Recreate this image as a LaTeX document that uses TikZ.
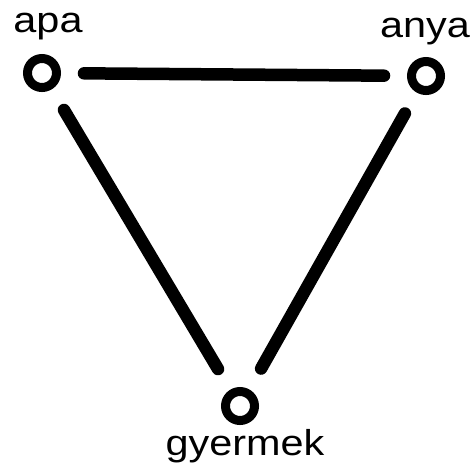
\documentclass[tikz,border=0pt]{standalone}
\usepackage{fontspec}
\setmainfont{Liberation Sans}
\usepackage{tikz}
\usetikzlibrary{positioning}
\newcommand{\szeles}[1]{\scalebox{1.15}[1]{#1}}
\tikzset{
  tag/.style={
    circle, draw=black, line width=9pt, fill=white,
    minimum size=29pt, inner sep=0pt
  },
  nev/.style={
    font=\fontsize{36}{40}\selectfont, anchor=base, inner sep=0pt
  },
  kapocs/.style={line width=12.5pt, line cap=round, draw=black}
}
\begin{document}
\begin{tikzpicture}[x=1pt, y=-1pt]
\useasboundingbox (0,0) rectangle (473,467);

\node[tag] (apa) at (42,73) {};
\node[tag] (anya) at (426,76) {};
\node[tag] (gyermek) at (240,406) {};

\node[nev] (apalbl) at (48,32) {\szeles{apa}};
\node[nev] (anyalbl) at (425,37) {\szeles{anya}};
\node[nev] (gyermeklbl) at (245,455) {\szeles{gyermek}};

\foreach \a/\b/\s in {apa/anya/23pt, apa/gyermek/24pt, anya/gyermek/24pt}
  \draw[kapocs, shorten >=\s, shorten <=\s] (\a) -- (\b);
\end{tikzpicture}
\end{document}
